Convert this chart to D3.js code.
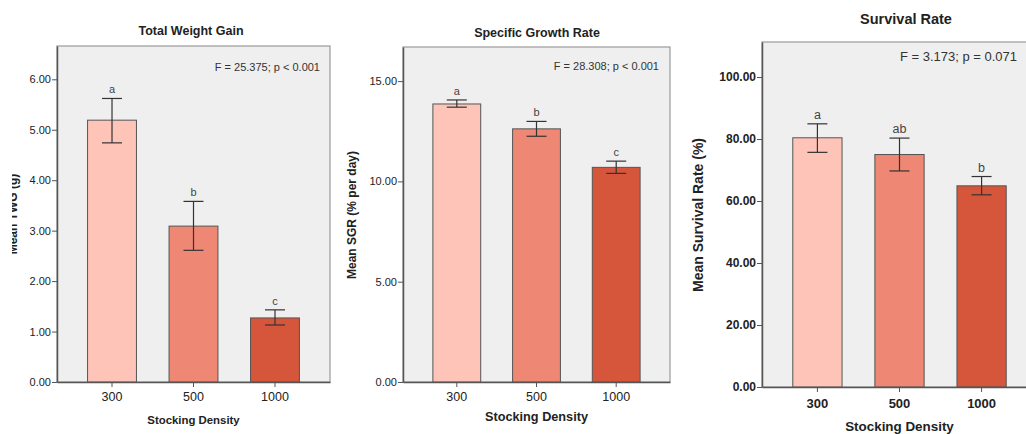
<!DOCTYPE html>
<html>
<head>
<meta charset="utf-8">
<script src="https://cdn.jsdelivr.net/npm/d3@7/dist/d3.min.js"></script>
<style>
  body { margin: 0; background: #fff; }
  text { font-family: "Liberation Sans", Arial, sans-serif; fill: #222; }
</style>
</head>
<body>
<svg id="chart" width="1026" height="434"></svg>
<script>
// data
const densities = ["300", "500", "1000"];
const barColors = ["#fdc4b7", "#ee8774", "#d6563c"];

const twgMean = [5.19, 3.09, 1.27];
const twgHigh = [5.62, 3.58, 1.43];
const twgLow = [4.74, 2.61, 1.13];
const twgLetters = ["a", "b", "c"];
const twgTicks = [0, 1, 2, 3, 4, 5, 6];

const sgrMean = [13.86, 12.62, 10.70];
const sgrHigh = [14.06, 12.99, 11.01];
const sgrLow = [13.70, 12.25, 10.40];
const sgrLetters = ["a", "b", "c"];
const sgrTicks = [0, 5, 10, 15];

const srMean = [80.4, 75.0, 64.9];
const srHigh = [84.9, 80.3, 67.9];
const srLow = [75.7, 69.7, 62.0];
const srLetters = ["a", "ab", "b"];
const srTicks = [0, 20, 40, 60, 80, 100];

const svg = d3.select('#chart');

const panels = [
    {
        title: "Total Weight Gain", stat: "F = 25.375; p < 0.001", yLabel: "Mean TWG (g)",
        mean: twgMean, high: twgHigh, low: twgLow, letters: twgLetters, ticks: twgTicks,
        yMax: 6.66, x0: 57, x1: 330, y0: 46, y1: 382,
        titleX: 191, titleY: 35, titleSize: 12.5,
        statY: 71, statRight: 320, statSize: 11,
        labelX: 17, labelY: 214, labelSize: 12, clipLabel: 12,
        tickSize: 11, tickWeight: "normal", catSize: 12.5, tickY: 401,
        axisSize: 11.4, axisY: 424, letterSize: 11
    },
    {
        title: "Specific Growth Rate", stat: "F = 28.308; p < 0.001", yLabel: "Mean SGR (% per day)",
        mean: sgrMean, high: sgrHigh, low: sgrLow, letters: sgrLetters, ticks: sgrTicks,
        yMax: 16.7, x0: 403, x1: 670, y0: 47, y1: 382,
        titleX: 537, titleY: 37, titleSize: 12.5,
        statY: 70, statRight: 659, statSize: 11,
        labelX: 356, labelY: 215, labelSize: 12,
        tickSize: 11, tickWeight: "normal", catSize: 12.5, tickY: 401,
        axisSize: 12.7, axisY: 421, letterSize: 11
    },
    {
        title: "Survival Rate", stat: "F = 3.173; p = 0.071", yLabel: "Mean Survival Rate (%)",
        mean: srMean, high: srHigh, low: srLow, letters: srLetters, ticks: srTicks,
        yMax: 111.3, x0: 762, x1: 1037, y0: 42, y1: 387,
        titleX: 906, titleY: 24, titleSize: 14.5,
        statY: 61, statRight: 1017, statSize: 13,
        labelX: 703, labelY: 215, labelSize: 14,
        tickSize: 12, tickWeight: "bold", catSize: 13, tickY: 408,
        axisSize: 13.4, axisY: 431, letterSize: 12.5
    }
];

panels.forEach((p, pi) => {
    const g = svg.append('g');

    const x = d3.scaleBand()
        .domain(densities)
        .range([p.x0, p.x1])
        .paddingInner(0.4)
        .paddingOuter(0.375);

    const y = d3.scaleLinear()
        .domain([0, p.yMax])
        .range([p.y1, p.y0]);

    // plot background + frame
    g.append('rect')
        .attr('x', p.x0).attr('y', p.y0)
        .attr('width', p.x1 - p.x0).attr('height', p.y1 - p.y0)
        .attr('fill', '#efefef')
        .attr('stroke', '#9a9a9a')
        .attr('stroke-width', 1.2);

    const rows = densities.map((d, i) => ({
        cat: d, mean: p.mean[i], high: p.high[i], low: p.low[i], letter: p.letters[i], color: barColors[i]
    }));

    g.selectAll('rect.bar')
        .data(rows)
        .enter()
        .append('rect')
        .attr('class', 'bar')
        .attr('x', d => x(d.cat))
        .attr('y', d => y(d.mean))
        .attr('width', x.bandwidth())
        .attr('height', d => y(0) - y(d.mean))
        .attr('fill', d => d.color)
        .attr('stroke', '#555')
        .attr('stroke-width', 1);

    // error bars
    const cap = 10;
    const mid = d => x(d.cat) + x.bandwidth() / 2;
    const eb = g.selectAll('g.err')
        .data(rows)
        .enter()
        .append('g')
        .attr('class', 'err')
        .attr('stroke', '#333')
        .attr('stroke-width', 1.2);
    eb.append('line')
        .attr('x1', mid).attr('x2', mid)
        .attr('y1', d => y(d.high))
        .attr('y2', d => y(d.low));
    eb.append('line')
        .attr('x1', d => mid(d) - cap).attr('x2', d => mid(d) + cap)
        .attr('y1', d => y(d.high)).attr('y2', d => y(d.high));
    eb.append('line')
        .attr('x1', d => mid(d) - cap).attr('x2', d => mid(d) + cap)
        .attr('y1', d => y(d.low)).attr('y2', d => y(d.low));

    g.selectAll('text.letter')
        .data(rows)
        .enter()
        .append('text')
        .attr('class', 'letter')
        .attr('x', mid)
        .attr('y', d => y(d.high) - 5)
        .attr('text-anchor', 'middle')
        .attr('font-size', p.letterSize)
        .style('fill', '#444')
        .text(d => d.letter);

    // y axis
    const yAxis = g.append('g')
        .attr('transform', `translate(${p.x0},0)`)
        .call(d3.axisLeft(y).tickValues(p.ticks).tickFormat(d3.format('.2f')).tickSize(5).tickSizeOuter(0));
    yAxis.select('.domain').attr('stroke', '#555').attr('stroke-width', 1.5);
    yAxis.selectAll('.tick line').attr('stroke', '#555');
    yAxis.selectAll('.tick text')
        .attr('font-family', '"Liberation Sans", Arial, sans-serif')
        .attr('font-size', p.tickSize)
        .attr('font-weight', p.tickWeight)
        .style('fill', '#222')
        .attr('x', -6);

    // x axis
    const xAxis = g.append('g')
        .attr('transform', `translate(0,${p.y1})`)
        .call(d3.axisBottom(x).tickSize(5).tickSizeOuter(0));
    xAxis.select('.domain').attr('stroke', '#555').attr('stroke-width', 1.5);
    xAxis.selectAll('.tick line').attr('stroke', '#555');
    xAxis.selectAll('.tick text').remove();

    g.selectAll('text.xcat')
        .data(densities)
        .enter()
        .append('text')
        .attr('class', 'xcat')
        .attr('x', d => x(d) + x.bandwidth() / 2)
        .attr('y', p.tickY)
        .attr('text-anchor', 'middle')
        .attr('font-size', p.catSize)
        .attr('font-weight', p.tickWeight)
        .text(d => d);

    g.append('text')
        .attr('x', (x(densities[0]) + x(densities[2]) + x.bandwidth()) / 2)
        .attr('y', p.axisY)
        .attr('text-anchor', 'middle')
        .attr('font-size', p.axisSize)
        .attr('font-weight', 'bold')
        .text('Stocking Density');

    g.append('text')
        .attr('x', p.titleX)
        .attr('y', p.titleY)
        .attr('text-anchor', 'middle')
        .attr('font-size', p.titleSize)
        .attr('font-weight', 'bold')
        .text(p.title);

    g.append('text')
        .attr('x', p.statRight)
        .attr('y', p.statY)
        .attr('text-anchor', 'end')
        .attr('font-size', p.statSize)
        .style('fill', '#333')
        .text(p.stat);

    // y label; the first one is cut off at the left in the source figure
    const lg = g.append('g');
    lg.append('text')
        .attr('transform', `translate(${p.labelX},${p.labelY}) rotate(-90)`)
        .attr('text-anchor', 'middle')
        .attr('font-size', p.labelSize)
        .attr('font-weight', 'bold')
        .text(p.yLabel);

    if (p.clipLabel) {
        svg.append('clipPath').attr('id', 'clip' + pi)
            .append('rect')
            .attr('x', p.clipLabel).attr('y', 0)
            .attr('width', 60).attr('height', 434);
        lg.attr('clip-path', `url(#clip${pi})`);
    }
});
</script>
</body>
</html>
